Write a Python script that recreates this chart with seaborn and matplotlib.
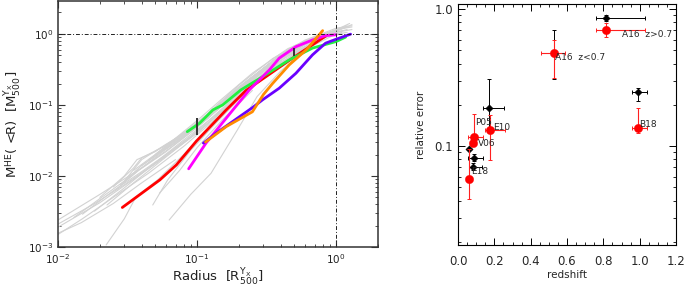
import numpy as np
import pandas as pd
import matplotlib
matplotlib.use("Agg")
import matplotlib.pyplot as plt
import seaborn as sns
from matplotlib.ticker import LogLocator, NullFormatter, FixedLocator, FixedFormatter, MultipleLocator

sns.set_style("ticks")
plt.rcParams["font.family"] = ["DejaVu Sans"]
plt.rcParams["mathtext.fontset"] = "dejavusans"

# ---------------- left panel data ----------------
gray_r = [
    [0.01, 0.02, 0.04, 0.07, 0.1, 0.2, 0.35, 0.6, 1.0, 1.3],
    [0.01, 0.02, 0.035, 0.06, 0.1, 0.2, 0.4, 0.7, 1.1],
    [0.01, 0.015, 0.025, 0.045, 0.08, 0.15, 0.3, 0.55, 0.9, 1.2],
    [0.01, 0.018, 0.03, 0.05, 0.09, 0.18, 0.35, 0.65, 1.0],
    [0.015, 0.025, 0.04, 0.07, 0.12, 0.25, 0.5, 0.8, 1.2],
    [0.0183, 0.03, 0.045, 0.08, 0.14, 0.3, 0.55, 0.9, 1.3],
    [0.0225, 0.035, 0.05, 0.09, 0.16, 0.3, 0.6, 1.0],
    [0.026, 0.038, 0.06, 0.1, 0.2, 0.4, 0.7, 1.1],
    [0.02, 0.03, 0.037, 0.05, 0.08, 0.13, 0.25, 0.5, 0.9],
    [0.025, 0.035, 0.04, 0.06, 0.1, 0.2, 0.4, 0.75, 1.2],
    [0.03, 0.04, 0.07, 0.1, 0.18, 0.35, 0.6, 1.0],
    [0.035, 0.05, 0.08, 0.12, 0.2, 0.35, 0.6, 0.95],
    [0.04, 0.06, 0.09, 0.15, 0.3, 0.5, 0.8, 1.2],
    [0.045, 0.07, 0.1, 0.2, 0.35, 0.6, 1.0, 1.3],
    [0.05, 0.07, 0.1, 0.15, 0.25, 0.45, 0.8, 1.1],
    [0.06, 0.08, 0.12, 0.2, 0.35, 0.6, 1.0],
    [0.07, 0.1, 0.15, 0.25, 0.4, 0.7, 1.0, 1.3],
    [0.08, 0.12, 0.2, 0.3, 0.5, 0.8, 1.1],
    [0.0222, 0.03, 0.0364, 0.052, 0.08, 0.12, 0.2, 0.4, 0.8],
    [0.063, 0.09, 0.126, 0.195, 0.27, 0.4, 0.6, 1.0],
    [0.048, 0.0615, 0.09, 0.13, 0.2, 0.3],
    [0.0536, 0.075, 0.1, 0.15, 0.25],
    [0.01, 0.0147, 0.025, 0.04, 0.07],
    [0.013, 0.02, 0.03, 0.04, 0.06, 0.1, 0.2, 0.4, 0.7, 1.0],
    [0.028, 0.04, 0.06, 0.1, 0.17, 0.3, 0.5, 0.85, 1.25],
]
gray_m = [
    [0.0024, 0.0055, 0.013, 0.028, 0.048, 0.16, 0.40, 0.78, 1.15, 1.25],
    [0.0019, 0.0042, 0.009, 0.019, 0.04, 0.13, 0.42, 0.8, 1.05],
    [0.0015, 0.0025, 0.005, 0.011, 0.026, 0.075, 0.26, 0.6, 0.95, 1.05],
    [0.0021, 0.004, 0.0075, 0.015, 0.036, 0.12, 0.36, 0.78, 1.0],
    [0.0029, 0.0062, 0.0115, 0.025, 0.055, 0.2, 0.6, 0.95, 1.15],
    [0.0032, 0.0068, 0.013, 0.032, 0.075, 0.3, 0.7, 1.0, 1.35],
    [0.0039, 0.008, 0.014, 0.035, 0.09, 0.25, 0.65, 1.1],
    [0.0064, 0.012, 0.022, 0.05, 0.16, 0.45, 0.85, 1.2],
    [0.005, 0.01, 0.017, 0.022, 0.04, 0.085, 0.25, 0.62, 0.98],
    [0.007, 0.013, 0.018, 0.027, 0.055, 0.18, 0.5, 0.9, 1.3],
    [0.0085, 0.014, 0.03, 0.052, 0.14, 0.4, 0.78, 1.05],
    [0.012, 0.02, 0.04, 0.07, 0.17, 0.42, 0.8, 1.1],
    [0.014, 0.025, 0.045, 0.1, 0.32, 0.66, 0.95, 1.25],
    [0.017, 0.032, 0.055, 0.19, 0.45, 0.82, 1.2, 1.3],
    [0.02, 0.034, 0.06, 0.12, 0.28, 0.62, 0.98, 1.1],
    [0.024, 0.035, 0.065, 0.16, 0.4, 0.75, 1.0],
    [0.03, 0.05, 0.095, 0.24, 0.52, 0.9, 1.05, 1.15],
    [0.035, 0.065, 0.17, 0.33, 0.68, 0.98, 1.2],
    [0.00107, 0.0025, 0.0051, 0.0088, 0.02, 0.045, 0.13, 0.4, 0.85],
    [0.0024, 0.0055, 0.0109, 0.0445, 0.131, 0.3, 0.6, 1.0],
    [0.0039, 0.0088, 0.023, 0.05, 0.12, 0.25],
    [0.0057, 0.012, 0.025, 0.06, 0.16],
    [0.00156, 0.0022, 0.0041, 0.008, 0.017],
    [0.0026, 0.0048, 0.0085, 0.017, 0.028, 0.05, 0.17, 0.5, 0.88, 1.1],
    [0.0075, 0.013, 0.024, 0.048, 0.12, 0.31, 0.62, 0.98, 1.4],
]

red_r = [0.029, 0.054, 0.071, 0.099, 0.162, 0.225, 0.313, 0.486, 0.84]
red_m = [0.0036, 0.0088, 0.0143, 0.031, 0.085, 0.16, 0.25, 0.455, 0.93]
green_r = [0.085, 0.104, 0.13, 0.153, 0.207, 0.296, 0.46, 0.676, 1.0, 1.17]
green_m = [0.042, 0.055, 0.085, 0.10, 0.163, 0.25, 0.43, 0.63, 0.78, 0.90]
magenta_r = [0.087, 0.116, 0.181, 0.238, 0.331, 0.39, 0.514, 0.676, 0.84, 1.0]
magenta_m = [0.0126, 0.029, 0.085, 0.163, 0.311, 0.455, 0.66, 0.82, 0.946, 0.97]
purple_r = [0.111, 0.137, 0.251, 0.296, 0.39, 0.514, 0.676, 0.84, 1.0, 1.27]
purple_m = [0.029, 0.040, 0.092, 0.118, 0.172, 0.279, 0.506, 0.74, 0.84, 0.99]
orange_r = [0.115, 0.162, 0.25, 0.30, 0.349, 0.46, 0.61, 0.80]
orange_m = [0.030, 0.0495, 0.08, 0.14, 0.20, 0.366, 0.595, 1.11]

bar_r = [0.1, 0.5]
bar_lo = [0.038, 0.49]
bar_hi = [0.065, 0.63]

# ---------------- right panel data ----------------
blk_z = [0.815, 0.99, 0.172, 0.062, 0.086, 0.081, 0.53]
blk_err = [0.86, 0.249, 0.19, 0.0955, 0.0817, 0.0706, 0.475]
blk_zlo = [0.758, 0.956, 0.139, 0.062, 0.053, 0.06, 0.53]
blk_zhi = [1.03, 1.04, 0.253, 0.062, 0.14, 0.13, 0.53]
blk_elo = [0.82, 0.213, 0.13, 0.0955, 0.078, 0.067, 0.31]
blk_ehi = [0.90, 0.265, 0.31, 0.0955, 0.087, 0.075, 0.70]

red_z = [0.815, 0.53, 0.99, 0.175, 0.088, 0.081, 0.062]
red_err = [0.71, 0.475, 0.136, 0.132, 0.116, 0.106, 0.0574]
red_zlo = [0.758, 0.455, 0.956, 0.15, 0.055, 0.081, 0.062]
red_zhi = [1.03, 0.59, 1.04, 0.26, 0.14, 0.081, 0.062]
red_elo = [0.63, 0.312, 0.124, 0.079, 0.105, 0.10, 0.041]
red_ehi = [0.79, 0.594, 0.19, 0.168, 0.171, 0.112, 0.095]

lab_text = ["A16  z>0.7", "A16  z<0.7", "B18", "E10", "P05", "V06", "E18"]
lab_z = [0.90, 0.534, 0.998, 0.194, 0.094, 0.108, 0.07]
lab_e = [0.653, 0.44, 0.145, 0.136, 0.148, 0.105, 0.0657]

# ---------------- figure ----------------
W, H = 685, 289
fig = plt.figure(figsize=(W / 100, H / 100), dpi=100)
ax1 = fig.add_axes([58 / W, 1 - 247 / H, 320 / W, 246 / H])
ax2 = fig.add_axes([458 / W, 1 - 245 / H, 218 / W, 241 / H])

# left panel
ax1.set_xscale("log")
ax1.set_yscale("log")
rows = []
for i, (rr, mm) in enumerate(zip(gray_r, gray_m)):
    for a, b in zip(rr, mm):
        rows.append((i, a, b))
gdf = pd.DataFrame(rows, columns=["curve", "r", "m"])
sns.lineplot(data=gdf, x="r", y="m", units="curve", estimator=None, sort=False,
             color="#d2d2d2", lw=0.8, ax=ax1, legend=False)

for rr, mm, c in [(red_r, red_m, "#ff0000"), (green_r, green_m, "#22f040"),
                  (magenta_r, magenta_m, "#ff00ff"), (purple_r, purple_m, "#6a00ff"),
                  (orange_r, orange_m, "#ff8c00")]:
    sns.lineplot(x=rr, y=mm, color=c, lw=2.0, sort=False, estimator=None, ax=ax1)

ax1.vlines(bar_r, bar_lo, bar_hi, color="#333333", lw=1.4, zorder=5)
dd = (0, (4, 2, 1, 2))
ax1.axhline(1.0, color="#222222", lw=0.7, ls=dd)
ax1.axvline(1.0, color="#222222", lw=0.7, ls=dd)
ax1.set_xlim(0.01, 2.0)
ax1.set_ylim(1e-3, 2.9)
ax1.xaxis.set_major_locator(LogLocator(base=10, numticks=10))
ax1.yaxis.set_major_locator(LogLocator(base=10, numticks=10))
ax1.xaxis.set_minor_locator(LogLocator(base=10, subs=np.arange(2, 10), numticks=20))
ax1.yaxis.set_minor_locator(LogLocator(base=10, subs=np.arange(2, 10), numticks=20))
ax1.xaxis.set_minor_formatter(NullFormatter())
ax1.yaxis.set_minor_formatter(NullFormatter())
ax1.tick_params(which="both", direction="in", top=True, right=True, colors="#333333",
                labelcolor="#222222", labelsize=7.5)
ax1.tick_params(axis="x", which="major", pad=3.5)
ax1.tick_params(which="major", length=5, width=0.8)
ax1.tick_params(which="minor", length=2.5, width=0.6)
for s in ax1.spines.values():
    s.set_color("#333333")
    s.set_linewidth(1.1)
ax1.set_xlabel(r"Radius  [R$^{\mathrm{Y_X}}_{\mathrm{500}}$]", fontsize=9.5, color="#222222",
               va="baseline")
ax1.xaxis.set_label_coords(0.5, -0.141)
ax1.set_ylabel(r"M$^{\mathrm{HE}}$( <R)  [M$^{\mathrm{Y_X}}_{\mathrm{500}}$]", fontsize=9.5, labelpad=3, color="#222222")

# right panel
ax2.set_yscale("log")
bz = np.array(blk_z); be = np.array(blk_err)
ax2.errorbar(bz, be, xerr=[bz - np.array(blk_zlo), np.array(blk_zhi) - bz],
             yerr=[be - np.array(blk_elo), np.array(blk_ehi) - be],
             fmt="none", ecolor="black", elinewidth=0.7, capsize=1.5, capthick=0.7, zorder=2)
sns.scatterplot(x=blk_z, y=blk_err, marker="D", s=14, color="black", edgecolor="black",
                linewidth=0.3, ax=ax2, zorder=3)
rz = np.array(red_z); re_ = np.array(red_err)
ax2.errorbar(rz, re_, xerr=[rz - np.array(red_zlo), np.array(red_zhi) - rz],
             yerr=[re_ - np.array(red_elo), np.array(red_ehi) - re_],
             fmt="none", ecolor="#ff2020", elinewidth=0.8, capsize=1.5, capthick=0.7, zorder=4)
sns.scatterplot(x=red_z, y=red_err, marker="o", s=36, color="#ff0000", edgecolor="#ff0000",
                linewidth=0.3, ax=ax2, zorder=5)
for t, x, y in zip(lab_text, lab_z, lab_e):
    ax2.text(x, y, t, fontsize=6.5, ha="left", va="center", zorder=6)

ax2.set_xlim(0, 1.2)
ax2.set_ylim(0.019, 1.09)
ax2.set_xticks([0.0, 0.2, 0.4, 0.6, 0.8, 1.0, 1.2])
ax2.set_xticklabels(["0.0", "0.2", "0.4", "0.6", "0.8", "1.0", "1.2"])
ax2.xaxis.set_minor_locator(MultipleLocator(0.05))
ax2.yaxis.set_major_locator(FixedLocator([0.1, 1.0]))
ax2.yaxis.set_major_formatter(FixedFormatter(["0.1", "1.0"]))
ax2.yaxis.set_minor_locator(FixedLocator([0.02, 0.03, 0.04, 0.05, 0.06, 0.07, 0.08, 0.09,
                                          0.2, 0.3, 0.4, 0.5, 0.6, 0.7, 0.8, 0.9]))
ax2.yaxis.set_minor_formatter(NullFormatter())
ax2.tick_params(which="both", direction="in", top=True, right=True, labelsize=8.5, color="black")
ax2.tick_params(axis="x", which="major", pad=7)
ax2.tick_params(which="major", length=5, width=0.7)
ax2.tick_params(which="minor", length=2.5, width=0.6)
for s in ax2.spines.values():
    s.set_color("black")
    s.set_linewidth(0.8)
ax2.set_xlabel("redshift", fontsize=7.5, labelpad=2)
ax2.set_ylabel("relative error", fontsize=7.5, labelpad=6)

fig.savefig("out.png", dpi=100)
